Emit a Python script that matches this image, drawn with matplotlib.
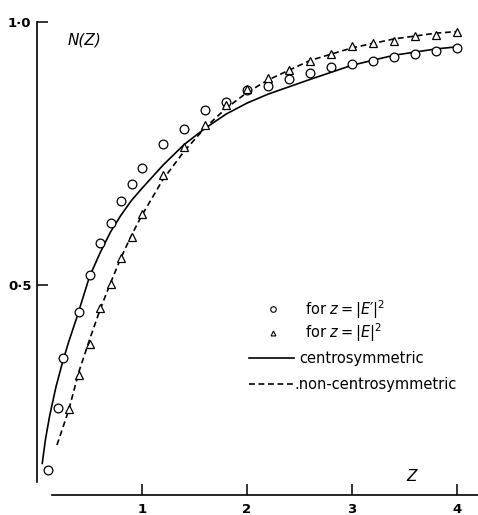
#!/usr/bin/env python3
"""
Cumulative distribution N(z) of intensities, observed vs. theoretical.
"""
import matplotlib
matplotlib.use('Agg')
import matplotlib.pyplot as plt

plt.rcParams['font.family'] = ['DejaVu Sans']
plt.rcParams['mathtext.fontset'] = 'dejavusans'

# observed points, z = |E'|^2 (circles)
circ_z = [0.1, 0.2, 0.25, 0.4, 0.5, 0.6, 0.7, 0.8, 0.9, 1.0, 1.2, 1.4, 1.6, 1.8,
          2.0, 2.2, 2.4, 2.6, 2.8, 3.0, 3.2, 3.4, 3.6, 3.8, 4.0]
circ_n = [0.148, 0.265, 0.36, 0.447, 0.519, 0.58, 0.617, 0.659, 0.691, 0.722,
          0.767, 0.795, 0.831, 0.847, 0.869, 0.877, 0.89, 0.902, 0.913, 0.92,
          0.926, 0.933, 0.938, 0.944, 0.949]

# observed points, z = |E|^2 (triangles)
tri_z = [0.3, 0.4, 0.5, 0.6, 0.7, 0.8, 0.9, 1.0, 1.2, 1.4, 1.6, 1.8,
         2.0, 2.2, 2.4, 2.6, 2.8, 3.0, 3.2, 3.4, 3.6, 3.8, 4.0]
tri_n = [0.263, 0.328, 0.388, 0.455, 0.502, 0.551, 0.591, 0.634, 0.708, 0.761,
         0.803, 0.841, 0.871, 0.892, 0.907, 0.926, 0.938, 0.953, 0.96, 0.964,
         0.972, 0.975, 0.981]

# theoretical curves
cen_z = [0.05, 0.08, 0.12, 0.18, 0.24, 0.3, 0.38, 0.5, 0.6, 0.7, 0.8, 0.9, 1.0,
         1.2, 1.4, 1.6, 1.8, 2.0, 2.2, 2.6, 3.0, 3.4, 3.8, 4.0]
cen_n = [0.16, 0.205, 0.25, 0.305, 0.35, 0.39, 0.438, 0.515, 0.56, 0.60, 0.632,
         0.66, 0.683, 0.727, 0.766, 0.797, 0.824, 0.845, 0.862, 0.89, 0.917,
         0.936, 0.948, 0.952]

acen_z = [0.19, 0.3, 0.4, 0.5, 0.6, 0.7, 0.8, 0.9, 1.0, 1.2, 1.4, 1.6, 1.8,
          2.0, 2.2, 2.6, 3.0, 3.4, 3.8, 4.0]
acen_n = [0.195, 0.26, 0.335, 0.395, 0.452, 0.503, 0.551, 0.594, 0.632, 0.70,
          0.753, 0.798, 0.835, 0.865, 0.889, 0.926, 0.95, 0.967, 0.978, 0.981]

xticks = [1, 2, 3, 4]
yticks = [0.5, 1.0]
ytick_labels = ['0\u00b75', '1\u00b70']

DASH = (0, (3.5, 2.2))

fig = plt.figure(figsize=(4.78, 5.15), dpi=100)
ax = fig.add_axes([37 / 478, 20 / 515, 441 / 478, 475 / 515])

ax.plot(cen_z, cen_n, color='black', lw=1.2)
ax.plot(acen_z, acen_n, color='black', lw=1.2, ls=DASH)
ax.plot(circ_z, circ_n, 'o', ms=6.3, mfc='white', mec='black', mew=0.9)
ax.plot(tri_z, tri_n, '^', ms=5.5, mfc='white', mec='black', mew=0.9)

ax.set_xlim(0, 4.2)
ax.set_ylim(0.10, 1.003)
for s in ['top', 'right']:
    ax.spines[s].set_visible(False)
ax.spines['left'].set_bounds(0.125, 1.0)
ax.spines['bottom'].set_bounds(0.14, 4.2)
ax.spines['left'].set_linewidth(1.2)
ax.spines['bottom'].set_linewidth(1.2)

ax.set_xticks(xticks)
ax.set_xticklabels([str(t) for t in xticks], fontsize=9.5, fontweight='bold')
ax.set_yticks(yticks)
ax.set_yticklabels(ytick_labels, fontsize=9.5, fontweight='bold')
ax.tick_params(direction='in', length=8, width=1.1)
ax.tick_params(axis='x', pad=6)
ax.tick_params(axis='y', pad=4)

ax.text(0.295, 0.965, 'N(Z)', fontsize=11, fontstyle='italic', va='center')
ax.text(3.52, 0.135, 'Z', fontsize=11, fontstyle='italic', va='center')

# hand-built legend
lx0, lx1, tx = 2.02, 2.45, 2.55
ax.plot([2.25], [0.453], 'o', ms=4, mfc='white', mec='black', mew=0.8)
ax.text(tx, 0.453, "for $z = |E\u2032|^2$", fontsize=10.5, va='center')
ax.plot([2.25], [0.408], '^', ms=3.5, mfc='white', mec='black', mew=0.8)
ax.text(tx, 0.408, 'for $z = |E|^2$', fontsize=10.5, va='center')
ax.plot([lx0, lx1], [0.360, 0.360], color='black', lw=1.2)
ax.text(2.50, 0.360, 'centrosymmetric', fontsize=10.5, va='center')
ax.plot([lx0, lx1], [0.311, 0.311], color='black', lw=1.2, ls=DASH)
ax.text(2.45, 0.311, '.non-centrosymmetric', fontsize=10.5, va='center')

fig.savefig('out.png')
